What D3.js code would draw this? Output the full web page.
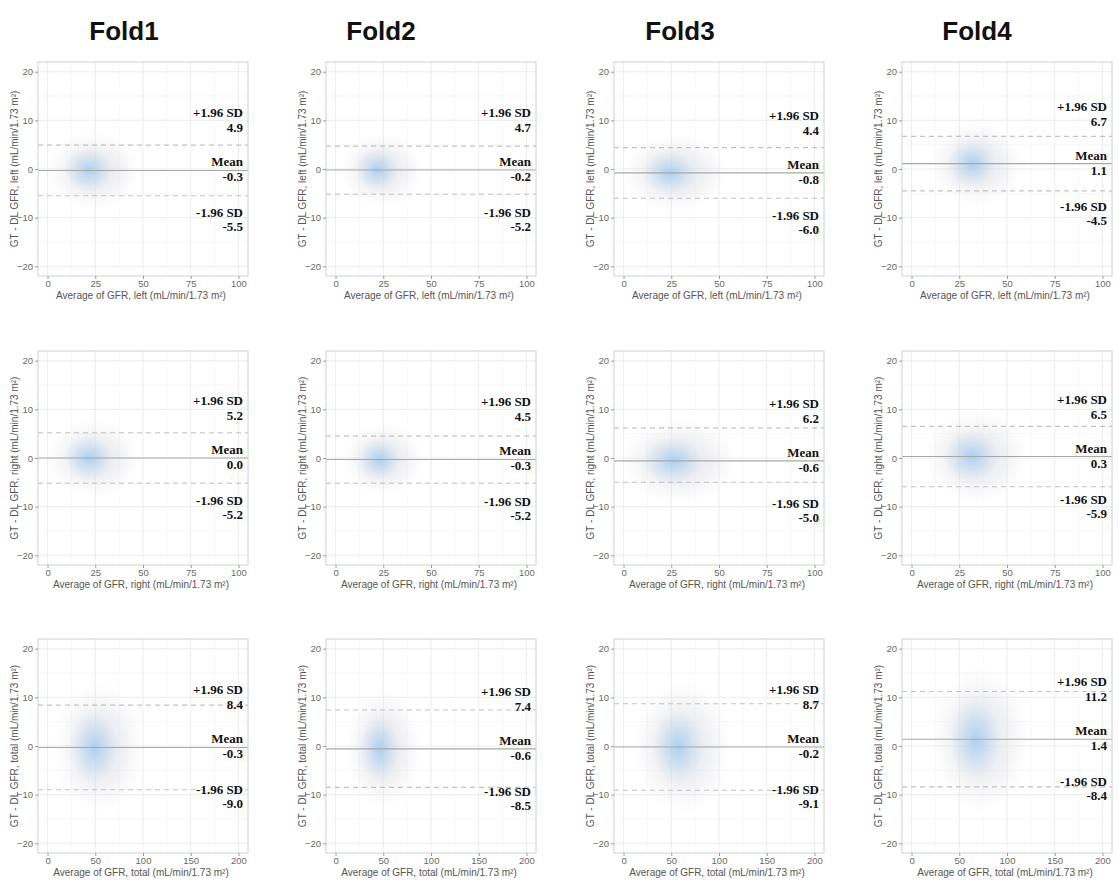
<!DOCTYPE html>
<meta charset="utf-8">
<style>
  body { margin: 0; background: #fff; }
</style>
<svg width="1118" height="882"></svg>

<script src="https://d3js.org/d3.v7.min.js"></script>
<script>
// ---- data ----
var folds = ["Fold1", "Fold2", "Fold3", "Fold4"]
var sides = ["left", "right", "total"]

// rows = left / right / total, columns = fold 1..4
var meanDiff = [[-0.3, -0.2, -0.8, 1.1], [0.0, -0.3, -0.6, 0.3], [-0.3, -0.6, -0.2, 1.4]]
var upperLoA = [[4.9, 4.7, 4.4, 6.7], [5.2, 4.5, 6.2, 6.5], [8.4, 7.4, 8.7, 11.2]]
var lowerLoA = [[-5.5, -5.2, -6.0, -4.5], [-5.2, -5.2, -5.0, -5.9], [-9.0, -8.5, -9.1, -8.4]]

// centre and spread of the point cloud along the x axis (average GFR)
var cloudMeanX = [[24, 24, 27, 34], [24, 25, 29, 34], [54, 50, 62, 72]]
var cloudSdX = [[8, 7, 9, 8], [8, 7, 10, 9], [16, 13, 17, 17]]

var xMax = [100, 100, 200]
var xTicks = [[0, 25, 50, 75, 100], [0, 25, 50, 75, 100], [0, 50, 100, 150, 200]]
var yTicks = [-20, -10, 0, 10, 20]

// ---- layout ----
var panelLeft = [38, 326, 614, 902]
var panelTop = [62, 351, 639]
var W = 210, H = 214
var titleX = [124, 381, 680, 977]

var svg = d3.select("svg")
var defs = svg.append("defs")

var halo = defs.append("radialGradient").attr("id", "halo")
halo.append("stop").attr("offset", "0%").attr("stop-color", "#c9cfdc").attr("stop-opacity", 0.55)
halo.append("stop").attr("offset", "55%").attr("stop-color", "#d6d8e0").attr("stop-opacity", 0.35)
halo.append("stop").attr("offset", "100%").attr("stop-color", "#e4e4ea").attr("stop-opacity", 0)

var core = defs.append("radialGradient").attr("id", "core")
core.append("stop").attr("offset", "0%").attr("stop-color", "#9ccbf3").attr("stop-opacity", 0.8)
core.append("stop").attr("offset", "50%").attr("stop-color", "#b3d4f1").attr("stop-opacity", 0.45)
core.append("stop").attr("offset", "100%").attr("stop-color", "#c8dcf0").attr("stop-opacity", 0)

var sans = "Liberation Sans, Arial, sans-serif"

// fold titles
svg.selectAll("text.fold")
  .data(folds)
  .enter().append("text")
    .attr("class", "fold")
    .attr("x", function (d, i) { return titleX[i] })
    .attr("y", 40)
    .attr("text-anchor", "middle")
    .attr("font-family", sans)
    .attr("font-weight", "bold")
    .attr("font-size", 26)
    .attr("fill", "#111")
    .text(function (d) { return d })

sides.forEach(function (side, r) {
  folds.forEach(function (fold, c) {
    var g = svg.append("g")
      .attr("transform", "translate(" + panelLeft[c] + "," + panelTop[r] + ")")

    var x = d3.scaleLinear().domain([-0.05 * xMax[r], 1.05 * xMax[r]]).range([0, W])
    var y = d3.scaleLinear().domain([-22, 22]).range([H, 0])

    // minor + major grid
    var step = xTicks[r][1] - xTicks[r][0]
    var xMinor = d3.range(step / 2, xMax[r], step)
    var yMinor = [-15, -5, 5, 15]
    g.selectAll("line.xminor").data(xMinor).enter().append("line")
      .attr("x1", x).attr("x2", x).attr("y1", 0).attr("y2", H)
      .attr("stroke", "#f3f3f3").attr("stroke-width", 0.6)
    g.selectAll("line.yminor").data(yMinor).enter().append("line")
      .attr("y1", y).attr("y2", y).attr("x1", 0).attr("x2", W)
      .attr("stroke", "#f3f3f3").attr("stroke-width", 0.6)
    g.selectAll("line.xmajor").data(xTicks[r]).enter().append("line")
      .attr("x1", x).attr("x2", x).attr("y1", 0).attr("y2", H)
      .attr("stroke", "#ebebeb").attr("stroke-width", 0.9)
    g.selectAll("line.ymajor").data(yTicks).enter().append("line")
      .attr("y1", y).attr("y2", y).attr("x1", 0).attr("x2", W)
      .attr("stroke", "#ebebeb").attr("stroke-width", 0.9)

    // point cloud as a density blob: faint grey halo + blue core
    var sdY = (upperLoA[r][c] - lowerLoA[r][c]) / 3.92
    var mx = cloudMeanX[r][c], sx = cloudSdX[r][c], my = meanDiff[r][c]
    g.append("ellipse")
      .attr("cx", x(mx)).attr("cy", y(my))
      .attr("rx", x(mx + 3.0 * sx) - x(mx))
      .attr("ry", y(my) - y(my + 3.0 * sdY))
      .attr("fill", "url(#halo)")
    g.append("ellipse")
      .attr("cx", x(mx - 0.3 * sx)).attr("cy", y(my))
      .attr("rx", x(mx + 1.6 * sx) - x(mx))
      .attr("ry", y(my) - y(my + 1.7 * sdY))
      .attr("fill", "url(#core)")

    // mean and limits of agreement
    g.append("line")
      .attr("x1", 0).attr("x2", W)
      .attr("y1", y(meanDiff[r][c])).attr("y2", y(meanDiff[r][c]))
      .attr("stroke", "#a8a8a8").attr("stroke-width", 1.1)
    ;[upperLoA[r][c], lowerLoA[r][c]].forEach(function (v) {
      g.append("line")
        .attr("x1", 0).attr("x2", W)
        .attr("y1", y(v)).attr("y2", y(v))
        .attr("stroke", "#c2c2c2").attr("stroke-width", 1.1)
        .attr("stroke-dasharray", "5,4")
    })

    // border
    g.append("rect")
      .attr("width", W).attr("height", H)
      .attr("fill", "none").attr("stroke", "#d0d0d0").attr("stroke-width", 1)

    // axes
    var xAxis = g.append("g")
      .attr("transform", "translate(0," + H + ")")
      .call(d3.axisBottom(x).tickValues(xTicks[r]).tickSize(3).tickPadding(1))
    var yAxis = g.append("g")
      .call(d3.axisLeft(y).tickValues(yTicks).tickSize(3).tickPadding(2))
    ;[xAxis, yAxis].forEach(function (a) {
      a.select(".domain").remove()
      a.selectAll(".tick line").attr("stroke", "#999")
      a.selectAll(".tick text")
        .attr("fill", "#6a6a6a")
        .attr("font-size", 9.5)
        .attr("font-family", sans)
    })

    // axis titles
    g.append("text")
      .attr("x", W / 2 - 2).attr("y", H + 23)
      .attr("text-anchor", "middle")
      .attr("font-family", sans)
      .attr("font-size", 10).attr("fill", "#555")
      .text("Average of GFR, " + side + " (mL/min/1.73 m\u00b2)")
    g.append("text")
      .attr("transform", "translate(-20," + (H / 2) + ") rotate(-90)")
      .attr("text-anchor", "middle")
      .attr("font-family", sans)
      .attr("font-size", 10).attr("fill", "#555")
      .text("GT - DL GFR, " + side + " (mL/min/1.73 m\u00b2)")

    // annotations, stacked relative to the mean line
    var ym = y(meanDiff[r][c])
    var notes = [
      { t: "+1.96 SD", dy: -53 },
      { t: upperLoA[r][c].toFixed(1), dy: -38 },
      { t: "Mean", dy: -4 },
      { t: meanDiff[r][c].toFixed(1), dy: 11 },
      { t: "-1.96 SD", dy: 47 },
      { t: lowerLoA[r][c].toFixed(1), dy: 61 }
    ]
    g.selectAll("text.note").data(notes).enter().append("text")
      .attr("class", "note")
      .attr("x", W - 5)
      .attr("y", function (d) { return ym + d.dy })
      .attr("text-anchor", "end")
      .attr("font-family", "Liberation Serif, Times New Roman, serif")
      .attr("font-weight", "bold")
      .attr("font-size", 13)
      .attr("fill", "#111")
      .text(function (d) { return d.t })
  })
})
</script>
